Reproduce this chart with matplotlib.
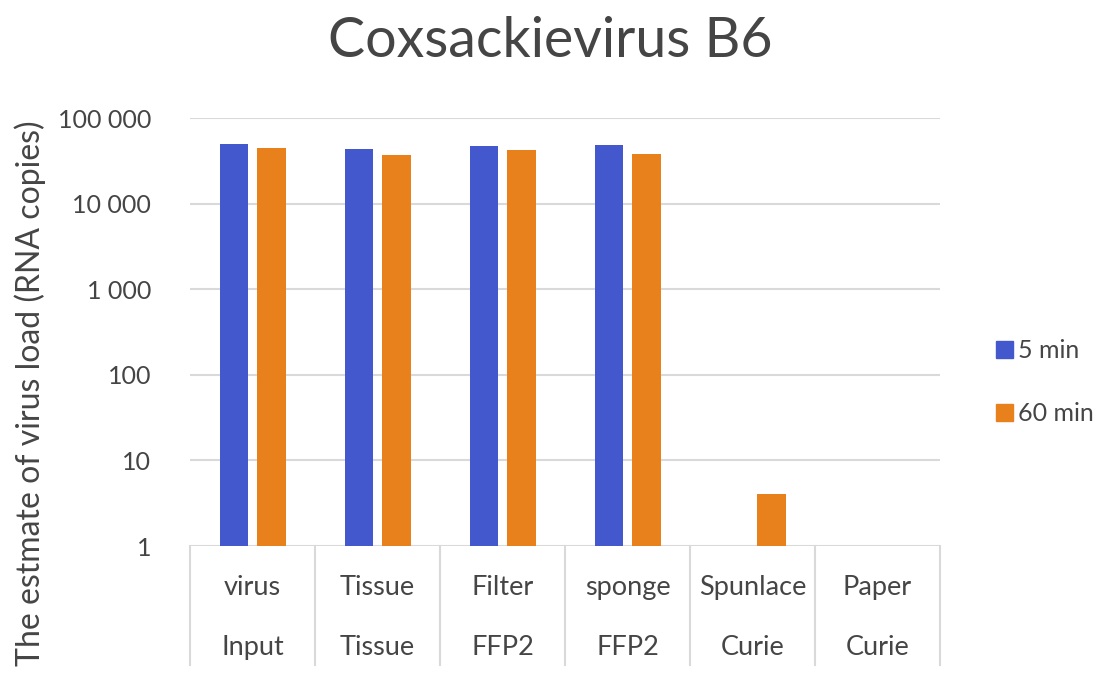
import matplotlib
matplotlib.use("Agg")
import matplotlib.pyplot as plt
import numpy as np
from matplotlib.patches import Patch
from matplotlib.lines import Line2D

plt.rcParams['font.family'] = ['Lato', 'DejaVu Sans']

title = "Coxsackievirus B6"
inner_labels = ["virus", "Tissue", "Filter", "sponge", "Spunlace", "Paper"]
outer_labels = ["Input", "Tissue", "FFP2", "FFP2", "Curie", "Curie"]
series_names = ["5 min", "60 min"]
values_5min = [50000, 44000, 47000, 48000, np.nan, np.nan]
values_60min = [45000, 37000, 42000, 38000, 4.0, np.nan]
yticks = [1, 10, 100, 1000, 10000, 100000]
ylabel = "The estmate of virus load (RNA copies)"

blue = "#4358CC"
orange = "#E8801C"
grid_c = "#D9D9D9"
text_c = "#454545"

fig = plt.figure(figsize=(11.08, 6.79), dpi=100)
ax = fig.add_axes([190/1108, 1-546/679, 750/1108, 428/679])

x = np.arange(len(inner_labels))
w = 0.225
ax.bar(x - 0.147, values_5min, width=w, color=blue, zorder=3)
ax.bar(x + 0.152, values_60min, width=w, color=orange, zorder=3)

ax.set_yscale('log')
ax.set_ylim(1, 100000)
ax.set_xlim(-0.5, len(inner_labels) - 0.5)
ax.set_yticks(yticks)
ax.set_yticklabels([f"{v:,}".replace(",", " ") for v in yticks])
ax.yaxis.set_minor_locator(matplotlib.ticker.NullLocator())
ax.tick_params(axis='y', length=0, labelsize=18, labelcolor=text_c, pad=28)
ax.set_xticks([])
for s in ax.spines.values():
    s.set_visible(False)
ax.grid(axis='y', color=grid_c, linewidth=1.5, zorder=0)

# category table below axis
for i in range(len(inner_labels) + 1):
    ax.add_line(Line2D([i - 0.5, i - 0.5], [0, -0.278], color=grid_c, linewidth=1.5,
                       transform=ax.get_xaxis_transform(), clip_on=False))
for i, (a, b) in enumerate(zip(inner_labels, outer_labels)):
    ax.text(i, -0.096, a, transform=ax.get_xaxis_transform(), ha='center', va='center',
            fontsize=19.5, color=text_c)
    ax.text(i, -0.238, b, transform=ax.get_xaxis_transform(), ha='center', va='center',
            fontsize=19.5, color=text_c)

fig.text(550/1108, 1-57/679, title, ha='center', va='baseline', fontsize=40, color=text_c)
fig.text(30/1108, 1-393/679, ylabel, ha='center', va='center', rotation=90,
         fontsize=23, color=text_c)

handles = [Patch(color=blue, label=series_names[0]), Patch(color=orange, label=series_names[1])]
fig.legend(handles=handles, loc='center left', bbox_to_anchor=(973/1108, 1-382/679),
           frameon=False, fontsize=18, handlelength=0.7, handleheight=0.7,
           handletextpad=0.2, labelspacing=1.6, labelcolor=text_c)

fig.savefig("out.png", dpi=100, facecolor='white')
